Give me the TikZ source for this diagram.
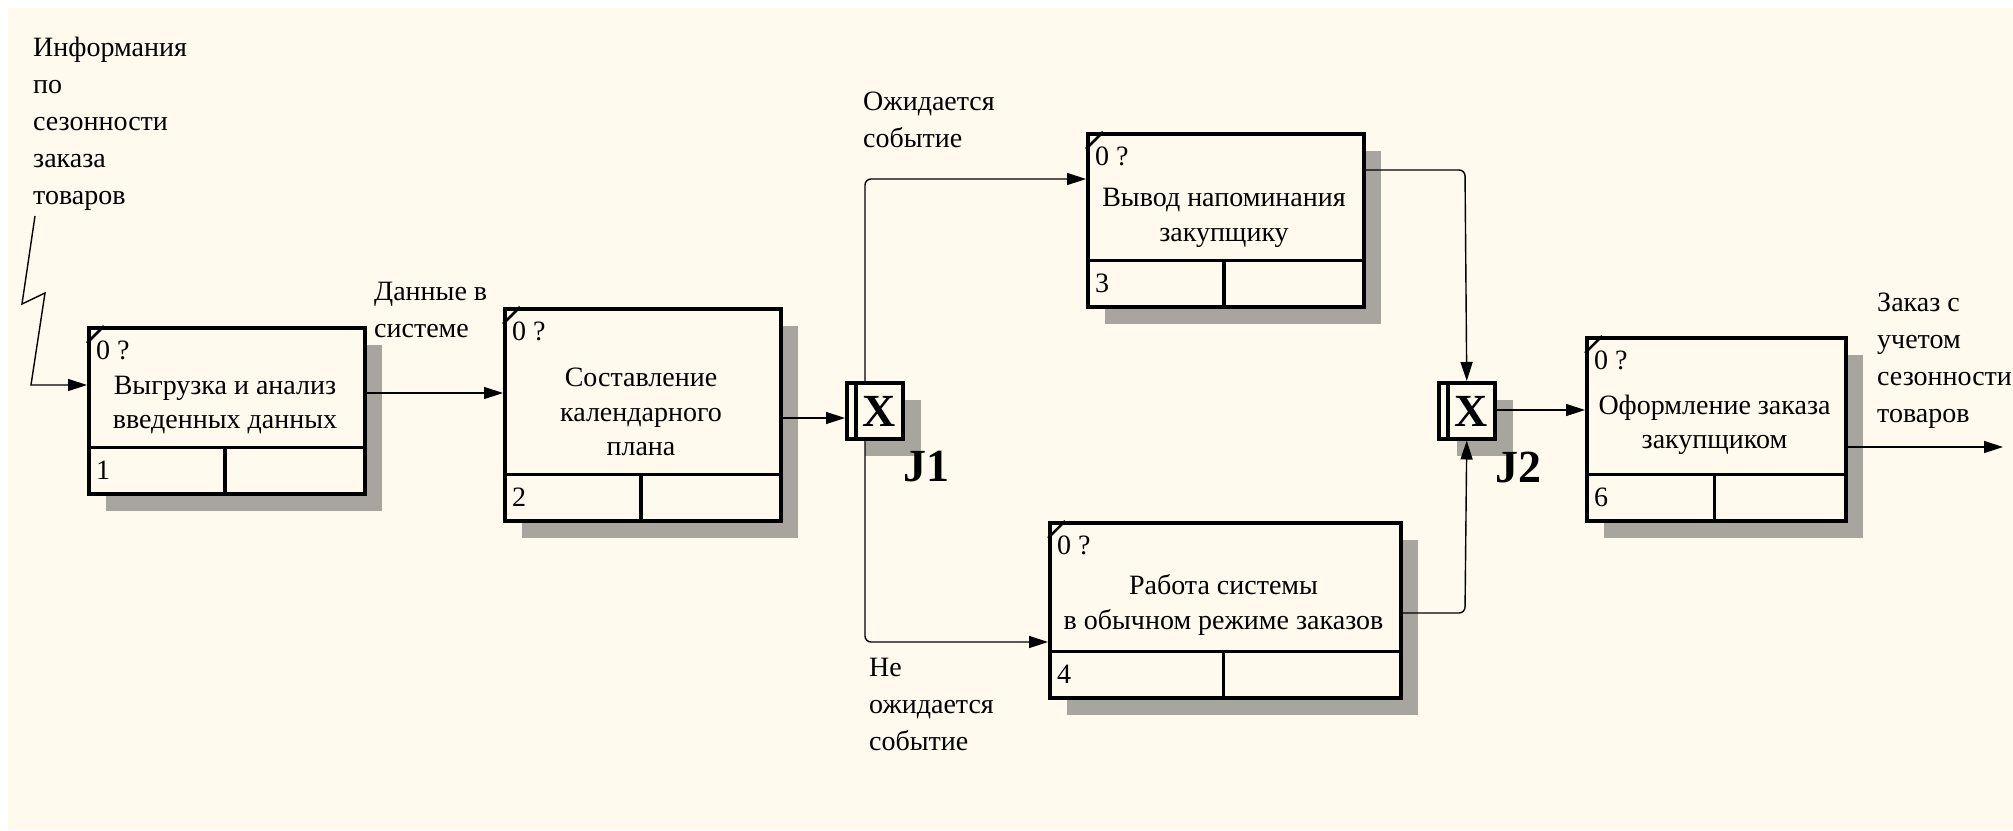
\documentclass[tikz,border=0pt]{standalone}
\usepackage{fontspec}
\setmainfont{Liberation Serif}
\usetikzlibrary{arrows.meta,calc}

\definecolor{paper}{RGB}{255,249,238}
\definecolor{shade}{RGB}{168,165,158}

\tikzset{
  frame/.style={draw=black, line width=3.5pt, fill=paper, inner sep=0pt},
  rule/.style={draw=black, line width=3.5pt},
  shadowbox/.style={fill=shade, draw=none},
  flow/.style={draw=black, line width=1.4pt, -{Triangle[length=19pt,width=12pt]}},
  body/.style={font=\fontsize{28}{34.5}\selectfont, align=center, inner sep=0pt},
  lbl/.style={font=\fontsize{28}{37}\selectfont, align=left, inner sep=0pt, anchor=north west},
  jfont/.style={font=\fontsize{46}{46}\bfseries\selectfont, inner sep=0pt},
}

% activity box: name, left, top, right, bottom, number
\newcommand\idefbox[6]{%
  \fill[shadowbox] (#2+19,#3+19) rectangle (#4+19,#5+19);
  \node[frame, anchor=north west, minimum width=#4-#2, minimum height=#5-#3] (#1) at (#2,#3) {};
  \draw[rule] (#2,#5-44.5) -- (#4,#5-44.5);
  \draw[rule] ({(#2+#4)/2},#5-44.5) -- ({(#2+#4)/2},#5);
  \draw[rule, line width=2.5pt] (#2,#3+17) -- (#2+17,#3);
  \node[body, anchor=west] (#1-ref) at (#2+9,#3+24) {0 ?};
  \node[body, anchor=west] (#1-num) at (#2+9,#5-22) {#6};
}

% exclusive-or junction: name, left, top, label
\newcommand\xjunct[4]{%
  \fill[shadowbox] (#2+20,#3+19) rectangle (#2+76,#3+75);
  \node[frame, anchor=north west, minimum width=56, minimum height=56] (#1) at (#2,#3) {};
  \draw[rule] (#2+11,#3) -- (#2+11,#3+56);
  \node[jfont] (#1-x) at (#2+34,#3+30) {X};
  \node[jfont] (#1-lbl) at (#2+81,#3+86) {#4};
}

\begin{document}
\begin{tikzpicture}[x=1pt,y=-1pt]
\useasboundingbox (0,0) rectangle (2013,830);
\fill[white] (0,0) rectangle (2013,830);
\fill[paper] (8,8) rectangle (2013,830);

% activities
\idefbox{b1}{87}{326}{363}{492}{1}
\node[body] (t1) at (225,405) {Выгрузка и анализ\\введенных данных};

\idefbox{b2}{503}{307}{779}{519}{2}
\node[body] (t2) at (641,412) {Составление\\календарного\\плана};

\idefbox{b3}{1086}{132}{1362}{305}{3}
\node[body] (t3) at (1224,218) {Вывод напоминания\\закупщику};

\idefbox{b4}{1048}{521}{1399}{696}{4}
\node[body] (t4) at (1223.5,605) {Работа системы\\в обычном режиме заказов};

\idefbox{b6}{1585}{336}{1844}{519}{6}
\node[body] (t6) at (1714.5,425) {Оформление заказа\\закупщиком};

% junctions
\xjunct{j1}{845}{381}{J1}
\xjunct{j2}{1437}{381}{J2}

% external ends
\coordinate (src) at (35,216);
\coordinate (out) at (2003,447);

% connectors
\draw[flow] (src) -- (22,304) -- (45,293) -- (31,385) -- (b1.west |- 0,385);
\draw[flow] (b1.east |- 0,393) -- (b2.west |- 0,393);
\draw[flow] (b2.east |- 0,418) -- (j1.west |- 0,418);
\draw[flow, rounded corners=6pt] (j1.north -| 865,0) -- (865,179) -- (b3.west |- 0,179);
\draw[flow, rounded corners=6pt] (j1.south -| 865,0) -- (865,642) -- (b4.west |- 0,642);
\draw[flow, rounded corners=6pt] (b3.east |- 0,170) -- (1465,170) -- (j2.north);
\draw[flow, rounded corners=6pt] (b4.east |- 0,613) -- (1465,613) -- (j2.south);
\draw[flow] (j2.east |- 0,410) -- (b6.west |- 0,410);
\draw[flow] (b6.east |- 0,447) -- (out);

% arrow labels
\node[lbl] (l1) at (33,37) {Информания\\по\\сезонности\\заказа\\товаров};
\node[lbl] (l2) at (374,282) {Данные в\\системе};
\node[lbl] (l3) at (863,92) {Ожидается\\событие};
\node[lbl] (l4) at (869,658) {Не\\ожидается\\событие};
\node[lbl] (l5) at (1877,293) {Заказ с\\учетом\\сезонности\\товаров};
\end{tikzpicture}
\end{document}
